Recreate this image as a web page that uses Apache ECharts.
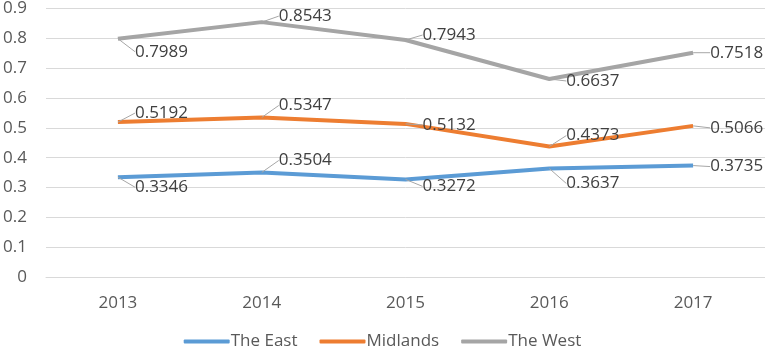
<!DOCTYPE html>
<html lang="en">
<head>
    <meta charset="UTF-8">
    <title>Regions</title>
    <script src="https://cdn.jsdelivr.net/npm/echarts@6/dist/echarts.min.js"></script>
    <style>
        html, body { margin: 0; padding: 0; background: #fff; }
        #main { width: 765px; height: 355px; }
    </style>
</head>
<body>
    <div id="main"></div>
    <script type="text/javascript">
        var years = ['2013', '2014', '2015', '2016', '2017'];
        var theEast = [0.3346, 0.3504, 0.3272, 0.3637, 0.3735];
        var midlands = [0.5192, 0.5347, 0.5132, 0.4373, 0.5066];
        var theWest = [0.7989, 0.8543, 0.7943, 0.6637, 0.7518];

        // label shifts (px) from the point, per series then per year
        var labelDy = [
            [10, -12, 7, 15, 1],
            [-9, -12, 1, -11, 2],
            [13, -6, -5, 2, 0]
        ];

        var myChart = echarts.init(document.getElementById('main'));

        function makeSeries(name, data, color) {
            return {
                name: name,
                type: 'line',
                data: data,
                symbol: 'circle',
                symbolSize: 0.1,
                showSymbol: true,
                lineStyle: { color: color, width: 4 },
                itemStyle: { color: color },
                label: {
                    show: true,
                    position: 'right',
                    distance: 5,
                    color: '#404040',
                    fontSize: 17,
                    fontFamily: 'Open Sans',
                    formatter: function (p) { return Number(p.value).toFixed(4); }
                },
                labelLine: {
                    show: true,
                    lineStyle: { color: '#a6a6a6', width: 1 }
                }
            };
        }

        var option = {
            animation: false,
            grid: { left: 46, right: 0, top: 7, bottom: 78 },
            legend: {
                bottom: 0,
                left: 'center',
                itemWidth: 46,
                itemHeight: 4,
                itemGap: 22,
                icon: 'roundRect',
                textStyle: { color: '#595959', fontSize: 17, fontFamily: 'Open Sans', padding: [0, 0, 0, -4] },
                data: ['The East', 'Midlands', 'The West']
            },
            xAxis: {
                type: 'category',
                data: years,
                boundaryGap: true,
                axisLine: { show: true, lineStyle: { color: '#d9d9d9' } },
                axisTick: { show: false },
                axisLabel: { color: '#595959', fontSize: 17, fontFamily: 'Open Sans', margin: 18 }
            },
            yAxis: {
                type: 'value',
                min: 0,
                max: 0.9,
                interval: 0.1,
                axisLine: { show: false },
                axisTick: { show: false },
                splitLine: { lineStyle: { color: '#d9d9d9', width: 1 } },
                axisLabel: { color: '#595959', fontSize: 17, fontFamily: 'Open Sans', margin: 19 }
            },
            labelLayout: function (p) {
                return { dx: 12, dy: labelDy[p.seriesIndex][p.dataIndex] };
            },
            series: [
                makeSeries('The East', theEast, '#5B9BD5'),
                makeSeries('Midlands', midlands, '#ED7D31'),
                makeSeries('The West', theWest, '#A5A5A5')
            ]
        };
        myChart.setOption(option);
    </script>
</body>
</html>
